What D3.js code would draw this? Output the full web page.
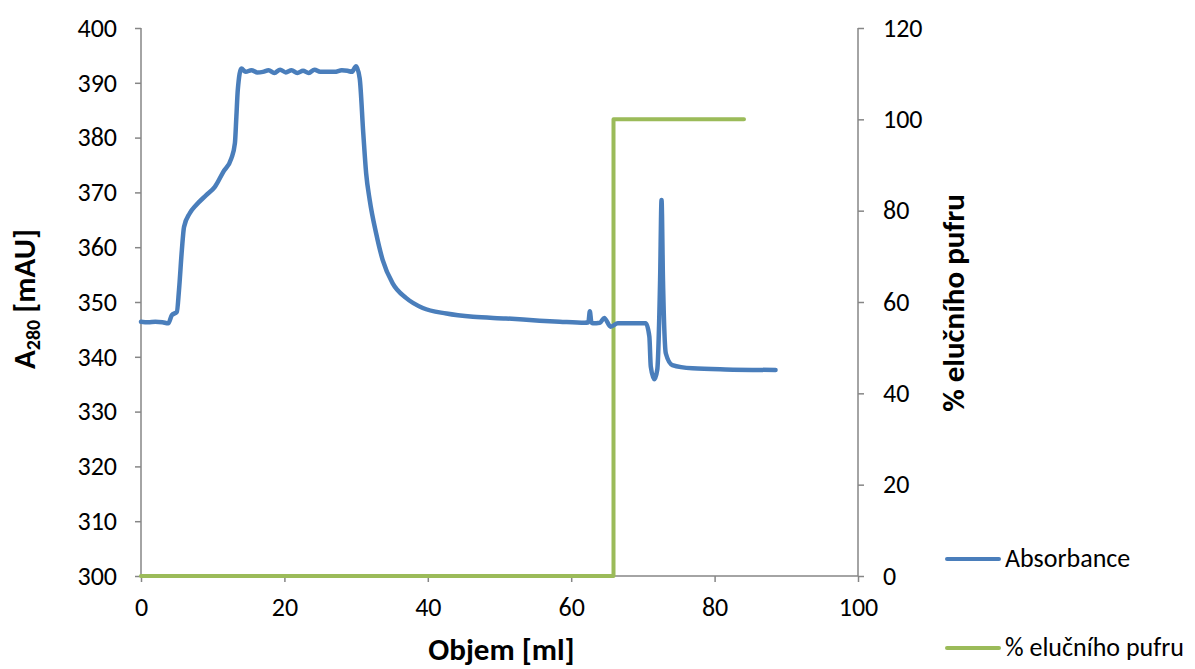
<!DOCTYPE html>
<html>
<head>
<meta charset="utf-8">
<script src="https://cdn.jsdelivr.net/npm/d3@7"></script>
<style>
  body { margin: 0; background: #fff; }
  text { font-family: Calibri, Carlito, "Open Sans", "Liberation Sans", sans-serif; }
</style>
</head>
<body>
<div id="chart"></div>
<script>
// volume [ml] and absorbance [mAU]
const volume = [0, 1, 2, 3, 3.8, 4.3, 5.0, 5.3, 5.7, 6.0, 6.8, 7.7, 9.1, 10.3, 11.5, 12.6, 13.1, 13.3, 13.5, 14.0,
  14.6, 15.4, 16.2, 17.0, 17.8, 18.6, 19.4, 20.2, 21.0, 21.8, 22.6, 23.4, 24.2, 25.0, 26.0, 27.0, 28.0, 28.8, 29.4, 30.0,
  30.5, 31.0, 31.4, 31.9, 32.8, 33.7, 35.1, 37.0, 39.3, 42.6, 46.3, 50.9, 55.6, 58.4, 61.9, 62.4, 62.6, 62.8, 63.0,
  64.0, 64.6, 65.5, 66.5, 70.4, 70.9, 71.1, 71.6, 72.0, 72.4, 72.6, 72.8, 73.2, 74.1, 76.9, 81.5, 88.5];
const absorbance = [346.4, 346.3, 346.4, 346.3, 346.1, 347.6, 348.2, 352.2, 359.5, 363.7, 366.2, 367.7, 369.5, 371.0, 373.8, 376.2, 379.0, 383.8, 388.7, 392.6,
  392.0, 392.3, 391.9, 392.0, 392.3, 391.8, 392.4, 391.9, 392.3, 391.8, 392.2, 391.8, 392.4, 392.0, 392.0, 392.0, 392.3, 392.2, 392.0, 393.0,
  390.8, 380.8, 373.5, 368.6, 362.5, 357.7, 353.4, 350.7, 348.9, 347.9, 347.3, 347.0, 346.6, 346.4, 346.2, 346.3, 348.3, 346.4, 346.1,
  346.2, 347.1, 345.5, 346.1, 346.1, 343.7, 338.2, 335.9, 337.6, 354.0, 368.6, 354.0, 340.6, 338.5, 337.9, 337.7, 337.6];

// elution buffer step [%]
const bufferVolume = [0, 65.9, 65.9, 84.1];
const bufferPct = [0, 0, 100, 100];

const xTicks = [0, 20, 40, 60, 80, 100];
const leftTicks = [300, 310, 320, 330, 340, 350, 360, 370, 380, 390, 400];
const rightTicks = [0, 20, 40, 60, 80, 100, 120];

const width = 1195;
const height = 669;
const plotLeft = 141, plotRight = 858, plotTop = 28, plotBottom = 576;

const blue = '#4a7ebb';
const green = '#9bbb59';
const axisGrey = '#868686';

const svg = d3.select('#chart').append('svg')
  .attr('width', width)
  .attr('height', height);

const x = d3.scaleLinear().domain([0, 100]).range([plotLeft, plotRight]);
const yLeft = d3.scaleLinear().domain([300, 400]).range([plotBottom, plotTop]);
const yRight = d3.scaleLinear().domain([0, 120]).range([plotBottom, plotTop]);

// axes
const xAxis = svg.append('g')
  .attr('transform', `translate(0,${plotBottom})`)
  .call(d3.axisBottom(x).tickValues(xTicks).tickSize(6).tickPadding(16).tickFormat(d3.format('d')));
const lAxis = svg.append('g')
  .attr('transform', `translate(${plotLeft},0)`)
  .call(d3.axisLeft(yLeft).tickValues(leftTicks).tickSize(6).tickPadding(18).tickFormat(d3.format('d')));
const rAxis = svg.append('g')
  .attr('transform', `translate(${plotRight},0)`)
  .call(d3.axisRight(yRight).tickValues(rightTicks).tickSize(6).tickPadding(19).tickFormat(d3.format('d')));

[xAxis, lAxis, rAxis].forEach(g => {
  g.select('.domain').attr('stroke', axisGrey).attr('stroke-width', 1.5);
  g.selectAll('.tick line').attr('stroke', axisGrey).attr('stroke-width', 1.5);
  g.selectAll('.tick text').attr('fill', '#000').style('font-size', '26px');
});
// domain path of axisLeft/Right draws outer ticks, redo as plain lines
lAxis.select('.domain').attr('d', `M0,${plotTop}V${plotBottom}`);
rAxis.select('.domain').attr('d', `M0,${plotTop}V${plotBottom}`);
xAxis.select('.domain').attr('d', `M${plotLeft},0H${plotRight}`);

// series
const absData = volume.map((v, i) => [v, absorbance[i]]);
const bufData = bufferVolume.map((v, i) => [v, bufferPct[i]]);

svg.append('path')
  .datum(bufData)
  .attr('fill', 'none')
  .attr('stroke', green)
  .attr('stroke-width', 4)
  .attr('stroke-linejoin', 'round')
  .attr('stroke-linecap', 'round')
  .attr('d', d3.line().x(d => x(d[0])).y(d => yRight(d[1])));

svg.append('path')
  .datum(absData)
  .attr('fill', 'none')
  .attr('stroke', blue)
  .attr('stroke-width', 4.5)
  .attr('stroke-linejoin', 'round')
  .attr('stroke-linecap', 'round')
  .attr('d', d3.line().curve(d3.curveMonotoneX).x(d => x(d[0])).y(d => yLeft(d[1])));

// axis titles
svg.append('text')
  .attr('x', (plotLeft + plotRight) / 2 + 2)
  .attr('y', 660)
  .attr('text-anchor', 'middle')
  .style('font-size', '31px')
  .style('font-weight', 'bold')
  .text('Objem [ml]');

const yTitle = svg.append('text')
  .attr('transform', `translate(35,299) rotate(-90)`)
  .attr('text-anchor', 'middle')
  .style('font-size', '31px')
  .style('font-weight', 'bold');
yTitle.append('tspan').text('A');
yTitle.append('tspan').attr('dy', 5).style('font-size', '20px').text('280');
yTitle.append('tspan').attr('dy', -5).text(' [mAU]');

svg.append('text')
  .attr('transform', `translate(964,303) rotate(-90)`)
  .attr('text-anchor', 'middle')
  .style('font-size', '31px')
  .style('font-weight', 'bold')
  .text('% elučního pufru');

// legend
const legend = [
  { label: 'Absorbance', color: blue, y: 559 },
  { label: '% elučního pufru', color: green, y: 648 }
];
const lg = svg.append('g').selectAll('g').data(legend).enter().append('g');
lg.append('line')
  .attr('x1', 947).attr('x2', 999)
  .attr('y1', d => d.y).attr('y2', d => d.y)
  .attr('stroke', d => d.color)
  .attr('stroke-width', 4)
  .attr('stroke-linecap', 'round');
lg.append('text')
  .attr('x', 1005)
  .attr('y', d => d.y + 8)
  .style('font-size', '26px')
  .text(d => d.label);
</script>
</body>
</html>
